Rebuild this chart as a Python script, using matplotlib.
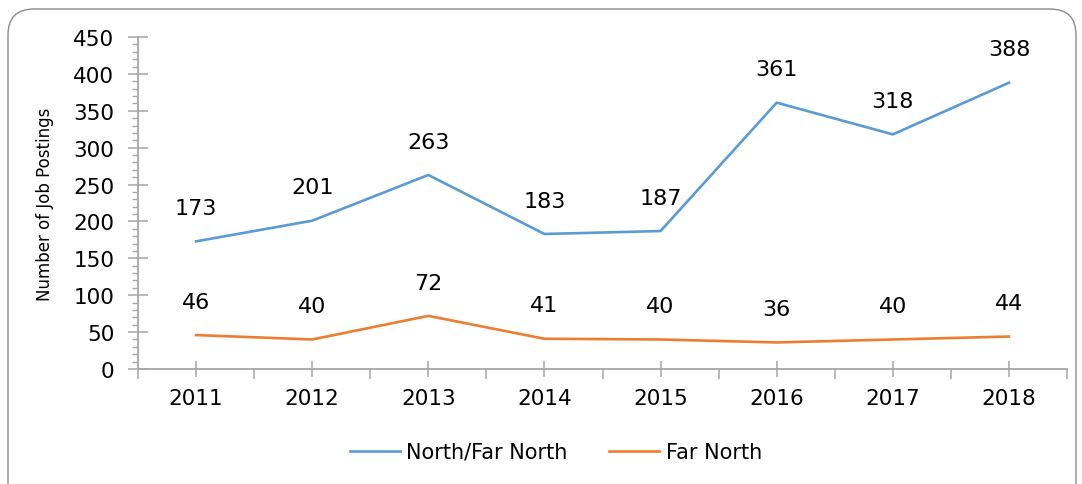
import numpy as np
import matplotlib.pyplot as plt
from matplotlib.patches import FancyBboxPatch
from matplotlib.ticker import MultipleLocator, FixedLocator

years = ["2011", "2012", "2013", "2014", "2015", "2016", "2017", "2018"]
north_far_north = [173, 201, 263, 183, 187, 361, 318, 388]
far_north = [46, 40, 72, 41, 40, 36, 40, 44]

blue = "#5B9BD5"
orange = "#ED7D31"
axis_gray = "#A6A6A6"

plt.rcParams['font.family'] = ['DejaVu Sans']

fig = plt.figure(figsize=(10.82, 4.85), dpi=100)

# rounded outer frame (bottom runs off the image)
W, H = 1082, 485
frame = FancyBboxPatch((8 / W, -40 / H), (1076 - 8) / W, (475 + 40) / H,
                       boxstyle="round,pad=0,rounding_size=0.024",
                       transform=fig.transFigure, fill=False,
                       edgecolor="#8C8C8C", linewidth=1.0,
                       mutation_aspect=W / H)
fig.patches.append(frame)

ax = fig.add_axes([138 / W, 1 - 370 / H, (1067 - 138) / W, (370 - 38) / H])

x = np.arange(len(years))
ax.plot(x, north_far_north, color=blue, lw=1.9, label="North/Far North")
ax.plot(x, far_north, color=orange, lw=1.9, label="Far North")

for xi, v in zip(x, north_far_north):
    ax.annotate(str(v), (xi, v), xytext=(0, 24), textcoords="offset points",
                ha="center", va="center", fontsize=16)
for xi, v in zip(x, far_north):
    ax.annotate(str(v), (xi, v), xytext=(0, 24), textcoords="offset points",
                ha="center", va="center", fontsize=16)

ax.set_xlim(-0.5, len(years) - 0.5)
ax.set_ylim(0, 450)

ax.yaxis.set_major_locator(MultipleLocator(50))
ax.yaxis.set_minor_locator(MultipleLocator(10))
ax.xaxis.set_major_locator(FixedLocator(x))
ax.xaxis.set_minor_locator(FixedLocator(np.arange(len(years) + 1) - 0.5))
ax.set_xticklabels(years)

for s in ["top", "right"]:
    ax.spines[s].set_visible(False)
for s in ["left", "bottom"]:
    ax.spines[s].set_color(axis_gray)
    ax.spines[s].set_linewidth(1.3)

ax.tick_params(axis="y", which="major", direction="inout", length=14, width=1.1,
               color=axis_gray, labelsize=15.5, pad=10)
ax.tick_params(axis="y", which="minor", direction="out", length=4, width=1.0,
               color=axis_gray)
ax.tick_params(axis="x", which="major", direction="inout", length=11, width=1.1,
               color=axis_gray, labelsize=15.5, pad=8)
ax.tick_params(axis="x", which="minor", direction="out", length=7, width=1.1,
               color=axis_gray)

ax.set_ylabel("Number of Job Postings", fontsize=12, labelpad=14)

leg = fig.legend(loc="center", bbox_to_anchor=(556 / W, 1 - 453 / H), ncol=2,
                 frameon=False, fontsize=15, handlelength=2.4, handletextpad=0.3,
                 columnspacing=2.0)

fig.savefig("out.png", dpi=100)
